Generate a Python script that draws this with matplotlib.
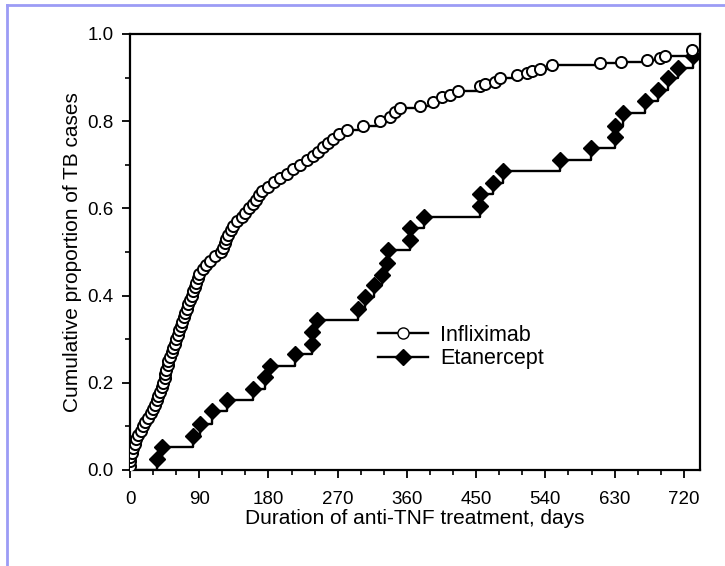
import numpy as np
import matplotlib
matplotlib.use("Agg")
import matplotlib.pyplot as plt
from matplotlib.lines import Line2D
from matplotlib.ticker import MultipleLocator, FormatStrFormatter

plt.rcParams['font.family'] = ['Liberation Sans', 'DejaVu Sans']

# infliximab: day of each TB case and cumulative proportion
inf_days = [0, 0, 0, 2, 4, 6, 8, 11, 14, 17, 20, 23, 27, 30, 33, 35, 37, 39, 41, 43,
            45, 46, 47, 49, 50, 52, 54, 56, 58, 60, 62, 64, 66, 68, 70, 72, 74, 76, 78, 80,
            82, 84, 86, 88, 90, 95, 99, 104, 110, 118, 121, 123, 125, 128, 131, 134, 139, 145,
            150, 155, 160, 164, 168, 172, 180, 187, 195, 204, 212, 221, 230, 238, 245, 251,
            258, 264, 272, 282, 303, 325, 338, 345, 351, 377, 394, 405, 416, 426, 455, 462,
            474, 481, 503, 516, 522, 533, 548, 611, 638, 672, 689, 695, 730]
inf_prop = [0.01, 0.02, 0.03, 0.04, 0.05, 0.06, 0.07, 0.08, 0.09, 0.10, 0.11, 0.12, 0.13,
            0.14, 0.15, 0.16, 0.17, 0.18, 0.19, 0.20, 0.21, 0.22, 0.23, 0.24, 0.25, 0.26,
            0.27, 0.28, 0.29, 0.30, 0.31, 0.32, 0.33, 0.34, 0.35, 0.36, 0.37, 0.38, 0.39,
            0.40, 0.41, 0.42, 0.43, 0.44, 0.45, 0.46, 0.47, 0.48, 0.49, 0.50, 0.51, 0.52,
            0.53, 0.54, 0.55, 0.56, 0.57, 0.58, 0.59, 0.60, 0.61, 0.62, 0.63, 0.64, 0.65,
            0.66, 0.67, 0.68, 0.69, 0.70, 0.71, 0.72, 0.73, 0.74, 0.75, 0.76, 0.77, 0.78,
            0.79, 0.80, 0.81, 0.82, 0.83, 0.835, 0.845, 0.855, 0.86, 0.87, 0.88, 0.885,
            0.89, 0.90, 0.905, 0.91, 0.915, 0.92, 0.93, 0.933, 0.936, 0.94, 0.945, 0.95, 0.963]

# etanercept
eta_days = [35, 42, 82, 91, 107, 126, 160, 175, 182, 215, 236, 237, 243, 296, 305, 317,
            327, 334, 336, 364, 364, 382, 455, 455, 472, 485, 559, 599, 630, 630, 641, 669,
            686, 699, 712, 732]
eta_prop = [0.025, 0.052, 0.078, 0.105, 0.135, 0.16, 0.185, 0.213, 0.238, 0.265, 0.29,
            0.317, 0.345, 0.37, 0.397, 0.424, 0.447, 0.475, 0.505, 0.527, 0.555, 0.58,
            0.605, 0.633, 0.658, 0.686, 0.711, 0.738, 0.764, 0.789, 0.818, 0.846, 0.872,
            0.9, 0.922, 0.95]

fig = plt.figure(figsize=(7.25, 5.66), dpi=100)
ax = fig.add_axes([130/725, 1 - 470/566, 570/725, 436/566])

# step lines start from the origin
ax.step([0] + eta_days, [0] + eta_prop, where='post', color='black', lw=1.7, zorder=2)
ax.plot(eta_days, eta_prop, 'D', color='black', ms=8, zorder=3)
ax.step([0] + inf_days, [0] + inf_prop, where='post', color='black', lw=1.7, zorder=2)
ax.plot(inf_days, inf_prop, 'o', mfc='white', mec='black', mew=1.4, ms=8, zorder=4)

ax.set_xlim(0, 741)
ax.set_ylim(0, 1.0)
ax.xaxis.set_major_locator(MultipleLocator(90))
ax.xaxis.set_minor_locator(MultipleLocator(30))
ax.yaxis.set_major_locator(MultipleLocator(0.2))
ax.yaxis.set_minor_locator(MultipleLocator(0.1))
ax.yaxis.set_major_formatter(FormatStrFormatter('%.1f'))
ax.tick_params(which='major', direction='out', length=6, width=1.3, labelsize=13.5)
ax.tick_params(axis='x', which='major', pad=9)
ax.tick_params(axis='y', which='major', pad=6)
ax.tick_params(which='minor', direction='out', length=3.5, width=1.2)
for s in ax.spines.values():
    s.set_linewidth(1.6)

ax.set_xlabel("Duration of anti-TNF treatment, days", fontsize=15, labelpad=1)
ax.set_ylabel("Cumulative proportion of TB cases", fontsize=15, labelpad=4)

handles = [Line2D([], [], color='black', lw=1.7, marker='o', mfc='white', mec='black', ms=8),
           Line2D([], [], color='black', lw=1.7, marker='D', ms=8)]
ax.legend(handles, ["Infliximab", "Etanercept"], loc='upper left',
          bbox_to_anchor=(378/725, 1 - 325/566), bbox_transform=fig.transFigure,
          frameon=False, fontsize=15.5, handlelength=2.3, handletextpad=0.6,
          borderpad=0, borderaxespad=0, labelspacing=0.1)

# light blue page border
fig.add_artist(Line2D([7/725, 7/725], [0, 1 - 5/566], color='#9c9cf5', lw=2, transform=fig.transFigure))
fig.add_artist(Line2D([7/725, 1], [1 - 5/566, 1 - 5/566], color='#9c9cf5', lw=2, transform=fig.transFigure))

fig.savefig("out.png", dpi=100)
